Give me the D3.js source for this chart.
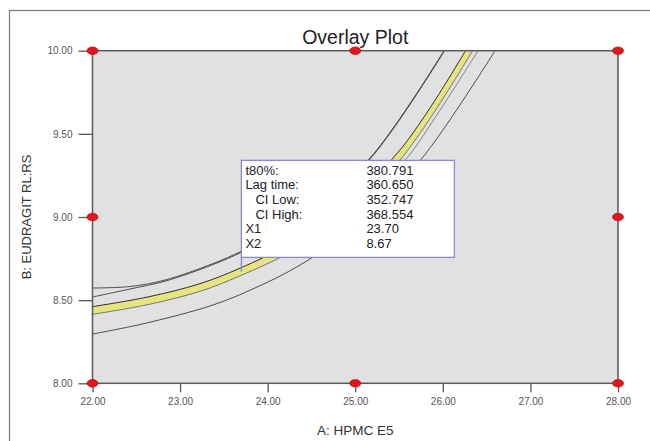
<!DOCTYPE html>
<html>
<head>
<meta charset="utf-8">
<script src="https://cdn.jsdelivr.net/npm/d3@7"></script>
<style>
  body { margin: 0; background: #fff; }
  svg { display: block; font-family: "Liberation Sans", Arial, sans-serif; }
</style>
</head>
<body>
<div id="chart"></div>
<script>
// ---- data ----
var xTicks = [22, 23, 24, 25, 26, 27, 28]
var yTicks = [8.0, 8.5, 9.0, 9.5, 10.0]
var designX = [22, 25, 28]
var designY = [8, 9, 10]

// yellow band (overlay / sweet spot) edges
var bandUpper = [[22.0, 8.461], [22.622, 8.518], [23.227, 8.599], [23.684, 8.692], [24.255, 8.839], [24.712, 9.003], [25.511, 9.403], [26.259, 10.0]]
var bandLower = [[22.0, 8.415], [22.622, 8.472], [23.227, 8.553], [23.684, 8.646], [24.255, 8.788], [24.712, 8.949], [25.511, 9.343], [26.339, 10.0]]

// thin contour lines
var lowerCurve = [[22.0, 8.296], [22.622, 8.363], [23.376, 8.471], [23.855, 8.573], [24.369, 8.711], [25.054, 8.964], [25.774, 9.361], [26.596, 10.0]]
var upperCurveA = [[22.0, 8.573], [22.428, 8.582], [22.828, 8.621], [23.376, 8.720], [23.707, 8.796], [24.141, 8.919], [24.483, 9.042], [25.169, 9.355], [26.013, 10.0]]
var upperCurveB = [[22.0, 8.519], [22.428, 8.567], [22.828, 8.614], [23.376, 8.714], [23.707, 8.790], [24.141, 8.913], [24.483, 9.036], [25.169, 9.349], [26.02, 10.0]]
var nearBandCurve = [[25.45, 9.30], [25.568, 9.343], [25.968, 9.643], [26.402, 10.0]]

var flagX = 23.70
var flagY = 8.67
var flagRows = [
  ["t80%:", "380.791", 0],
  ["Lag time:", "360.650", 0],
  ["CI Low:", "352.747", 1],
  ["CI High:", "368.554", 1],
  ["X1", "23.70", 0],
  ["X2", "8.67", 0]
]

// ---- layout ----
var width = 650, height = 441
var plotLeft = 92.5, plotRight = 618, plotTop = 50.7, plotBottom = 383.3

var svg = d3.select("#chart").append("svg")
  .attr("width", width)
  .attr("height", height)

// outer frame
svg.append("rect")
  .attr("x", 9.5).attr("y", 10.5)
  .attr("width", 700).attr("height", 500)
  .attr("fill", "none")
  .attr("stroke", "#7a7a7a")
  .attr("stroke-width", 1.2)

var x = d3.scaleLinear().domain([22, 28]).range([plotLeft, plotRight])
var y = d3.scaleLinear().domain([8, 10]).range([plotBottom, plotTop])

svg.append("defs").append("clipPath").attr("id", "plotclip")
  .append("rect")
  .attr("x", plotLeft).attr("y", plotTop)
  .attr("width", plotRight - plotLeft).attr("height", plotBottom - plotTop)

svg.append("rect")
  .attr("x", plotLeft).attr("y", plotTop)
  .attr("width", plotRight - plotLeft).attr("height", plotBottom - plotTop)
  .attr("fill", "#e1e1e1")

var line = d3.line()
  .x(d => x(d[0]))
  .y(d => y(d[1]))
  .curve(d3.curveCatmullRom)

var plot = svg.append("g").attr("clip-path", "url(#plotclip)")

// band
var bandPath = line(bandUpper) + "L" + line(bandLower.slice().reverse()).slice(1) + "Z"
plot.append("path")
  .attr("d", bandPath)
  .attr("fill", "#e6e47e")
  .attr("stroke", "none")
plot.append("path").attr("d", line(bandUpper))
  .attr("fill", "none").attr("stroke", "#2e2e2e").attr("stroke-width", 1)
plot.append("path").attr("d", line(bandLower))
  .attr("fill", "none").attr("stroke", "#6a6a6a").attr("stroke-width", 0.9)

var thin = [lowerCurve, upperCurveA, upperCurveB, nearBandCurve]
plot.selectAll("path.contour")
  .data(thin)
  .enter()
  .append("path")
  .attr("class", "contour")
  .attr("d", d => line(d))
  .attr("fill", "none")
  .attr("stroke", (d, i) => i == 3 ? "#7a7a7a" : "#3c3c3c")
  .attr("stroke-width", 0.9)

// axes
var yAxis = d3.axisLeft(y)
  .tickValues(yTicks)
  .tickSize(14)
  .tickPadding(6)
  .tickFormat(d3.format(".2f"))
var xAxis = d3.axisBottom(x)
  .tickValues(xTicks)
  .tickSize(9)
  .tickPadding(6)
  .tickFormat(d3.format(".2f"))

var gy = svg.append("g").attr("transform", "translate(" + plotLeft + ",0)").call(yAxis)
var gx = svg.append("g").attr("transform", "translate(0," + plotBottom + ")").call(xAxis)
;[gx, gy].forEach(g => {
  g.select(".domain").remove()
  g.selectAll(".tick line").attr("stroke", "#555").attr("stroke-width", 1.3)
  g.selectAll(".tick text")
    .attr("fill", "#555")
    .style("font-size", "10px")
    .style("font-family", "'Liberation Sans', Arial, sans-serif")
})

// plot frame
svg.append("rect")
  .attr("x", plotLeft).attr("y", plotTop)
  .attr("width", plotRight - plotLeft).attr("height", plotBottom - plotTop)
  .attr("fill", "none")
  .attr("stroke", "#5a5a5a")
  .attr("stroke-width", 1.5)

// design points
var pts = []
designX.forEach(a => designY.forEach(b => pts.push([a, b])))
svg.selectAll("ellipse.dp")
  .data(pts)
  .enter()
  .append("ellipse")
  .attr("class", "dp")
  .attr("cx", d => x(d[0]))
  .attr("cy", d => y(d[1]))
  .attr("rx", 5.5)
  .attr("ry", 3.8)
  .attr("fill", "#e8141c")
  .attr("stroke", "#a00000")
  .attr("stroke-width", 0.6)

// flag
var fx = x(flagX), fy = y(flagY)
var boxBottom = fy - 14.5, boxTop = boxBottom - 97, boxW = 213
svg.append("line")
  .attr("x1", fx).attr("x2", fx)
  .attr("y1", boxBottom).attr("y2", fy)
  .attr("stroke", "#8a8ad0").attr("stroke-width", 1.3)
svg.append("rect")
  .attr("x", fx).attr("y", boxTop)
  .attr("width", boxW).attr("height", boxBottom - boxTop)
  .attr("fill", "#fff")
  .attr("stroke", "#8a8ad0")
  .attr("stroke-width", 1.3)

var rows = svg.append("g").selectAll("g")
  .data(flagRows)
  .enter()
  .append("g")
  .attr("transform", (d, i) => "translate(0," + (boxTop + 14.5 + i * 14.6) + ")")
rows.append("text")
  .attr("x", d => fx + 4 + d[2] * 10)
  .attr("fill", "#222")
  .style("font-size", "13px")
  .text(d => d[0])
rows.append("text")
  .attr("x", fx + 125)
  .attr("fill", "#222")
  .style("font-size", "13px")
  .text(d => d[1])

// titles
svg.append("text")
  .attr("x", (plotLeft + plotRight) / 2)
  .attr("y", 44)
  .attr("text-anchor", "middle")
  .attr("fill", "#222")
  .style("font-size", "19.5px")
  .text("Overlay Plot")

svg.append("text")
  .attr("x", (plotLeft + plotRight) / 2)
  .attr("y", 435)
  .attr("text-anchor", "middle")
  .attr("fill", "#333")
  .style("font-size", "13.5px")
  .text("A: HPMC E5")

svg.append("text")
  .attr("transform", "translate(31," + ((plotTop + plotBottom) / 2) + ") rotate(-90)")
  .attr("text-anchor", "middle")
  .attr("fill", "#333")
  .style("font-size", "13px")
  .text("B: EUDRAGIT RL:RS")
</script>
</body>
</html>
